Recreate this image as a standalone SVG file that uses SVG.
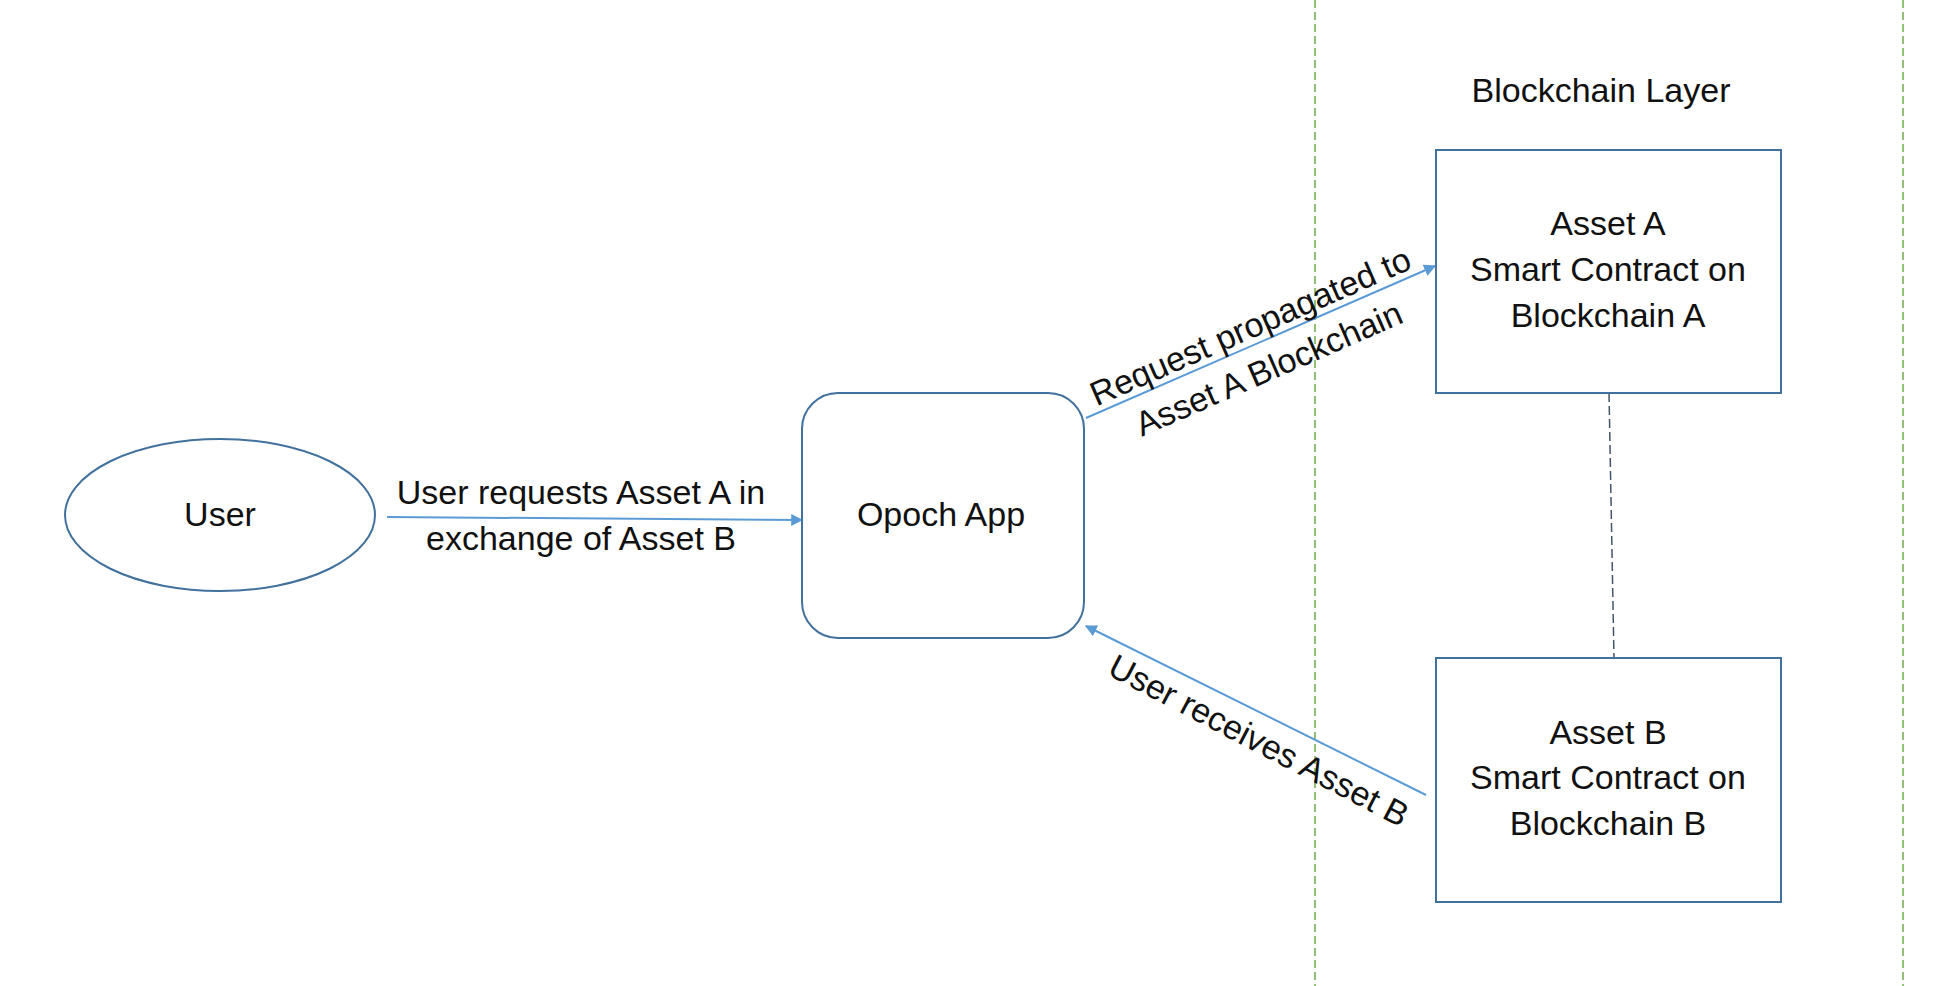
<svg xmlns="http://www.w3.org/2000/svg" width="1936" height="986" viewBox="0 0 1936 986">
<style>
text{font-family:"Liberation Sans",Arial,sans-serif;font-size:34px;fill:#111;text-anchor:middle}
.shape{fill:#fff;stroke:#41719C;stroke-width:2}
.conn{stroke:#5B9BD5;stroke-width:2;fill:none}
.lane{stroke:#70AD47;stroke-width:1.5;stroke-dasharray:8 4;fill:none}
.link{stroke:#44546A;stroke-width:1.5;stroke-dasharray:9 4;fill:none}
</style>
<defs>
<marker id="arr" viewBox="0 0 10 10" refX="9" refY="5" markerWidth="6" markerHeight="6" markerUnits="strokeWidth" orient="auto">
<path d="M0,0 L10,5 L0,10 z" fill="#5B9BD5"/>
</marker>
</defs>
<rect width="1936" height="986" fill="#fff"/>
<g id="lanes">
<line class="lane" x1="1315" y1="0" x2="1315" y2="986"/>
<line class="lane" x1="1903" y1="0" x2="1903" y2="986"/>
<text x="1601" y="102">Blockchain Layer</text>
</g>
<g id="connectors">
<line class="conn" x1="387" y1="517" x2="802" y2="520" marker-end="url(#arr)"/>
<line class="conn" x1="1086" y1="418" x2="1435" y2="266" marker-end="url(#arr)"/>
<line class="conn" x1="1426" y1="795" x2="1086" y2="626" marker-end="url(#arr)"/>
<line class="link" x1="1609" y1="393" x2="1614" y2="658"/>
<text x="581" y="504">User requests Asset A in</text>
<text x="581" y="550">exchange of Asset B</text>
<g transform="translate(1251,328) rotate(-23.6)">
<text x="0" y="10">Request propagated to</text>
<text x="0" y="56">Asset A Blockchain</text>
</g>
<g transform="translate(1258,742) rotate(27.5)">
<text x="0" y="10">User receives Asset B</text>
</g>
</g>
<g id="user">
<ellipse class="shape" cx="220" cy="515" rx="155" ry="76"/>
<text x="220" y="526">User</text>
</g>
<g id="opoch">
<rect class="shape" x="802" y="393" width="282" height="245" rx="36" ry="36"/>
<text x="941" y="526">Opoch App</text>
</g>
<g id="assetA">
<rect class="shape" x="1436" y="150" width="345" height="243"/>
<text x="1608" y="235">Asset A</text>
<text x="1608" y="281">Smart Contract on</text>
<text x="1608" y="327">Blockchain A</text>
</g>
<g id="assetB">
<rect class="shape" x="1436" y="658" width="345" height="244"/>
<text x="1608" y="744">Asset B</text>
<text x="1608" y="789">Smart Contract on</text>
<text x="1608" y="835">Blockchain B</text>
</g>
</svg>
